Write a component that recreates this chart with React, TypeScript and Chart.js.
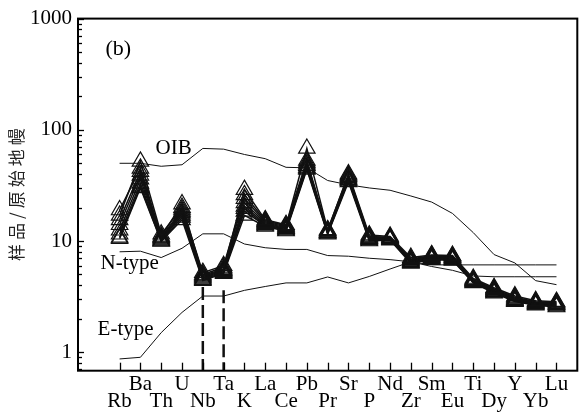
import React, { useEffect, useRef } from 'react';
import { Chart, registerables } from 'chart.js';

Chart.register(...registerables);

// Categories (primitive-mantle normalised trace elements)
const elements = ['Rb', 'Ba', 'Th', 'U', 'Nb', 'Ta', 'K', 'La', 'Ce', 'Pb', 'Pr', 'Sr', 'P', 'Nd', 'Zr', 'Sm', 'Eu', 'Ti', 'Dy', 'Y', 'Yb', 'Lu'];
const yTickValues = [1, 10, 100, 1000];
const yMin = 0.682;
const yMax = 1000;
const yTitle = '样品/原始地幔';

// Sample series (one value per element)
const sampleA = [19, 45, 11, 21.5, 4.9, 5.6, 29, 15.5, 14, 53, 12.4, 40, 11.3, 11, 7.1, 7.5, 7.4, 4.6, 3.8, 3.2, 2.9, 2.85];
const sampleB = [17, 52, 11.5, 20, 5.2, 6.0, 26, 15.2, 13.7, 68, 12.6, 39, 11, 10.8, 6.9, 7.4, 7.3, 4.5, 3.72, 3.12, 2.85, 2.8];
const sampleC = [15.5, 42, 10.8, 19.2, 5.0, 5.8, 24, 14.9, 13.4, 51, 12.2, 38, 10.8, 10.7, 6.8, 7.3, 7.2, 4.45, 3.66, 3.06, 2.81, 2.76];
const sampleD = [14, 39, 10.6, 18.5, 4.8, 5.5, 22, 14.6, 13.1, 49, 12, 37, 10.6, 10.6, 6.7, 7.2, 7.1, 4.4, 3.6, 3.0, 2.78, 2.72];
const sampleE = [12.5, 36, 10.4, 17.8, 4.7, 5.4, 20.5, 14.3, 12.9, 47.5, 11.9, 36, 10.5, 10.5, 6.6, 7.1, 7.0, 4.35, 3.55, 2.95, 2.75, 2.68];
const sampleF = [11.5, 33, 10.2, 17, 4.6, 5.3, 19.5, 14, 12.7, 46, 11.8, 35.5, 10.3, 10.4, 6.5, 7.0, 6.9, 4.3, 3.5, 2.91, 2.72, 2.65];
const sampleG = [10.8, 31, 10, 16.3, 4.5, 5.2, 18.5, 13.8, 12.5, 45, 11.7, 35, 10.2, 10.3, 6.4, 6.9, 6.8, 4.25, 3.45, 2.88, 2.69, 2.6];
const sampleH = [10.5, 30, 9.9, 15.5, 4.4, 5.1, 17, 13.5, 12.3, 44, 11.5, 34, 10.0, 10.2, 6.3, 6.8, 6.7, 4.2, 3.4, 2.85, 2.65, 2.55];

// Reference curves
const oib = [50, 50, 47, 48.5, 68, 67, 60, 55, 46, 45.5, 35, 32, 30, 28.6, 25.4, 22.4, 17.7, 11.9, 7.55, 6.35, 4.4, 4.05];
const nType = [8.0, 8.1, 7.1, 8.6, 11.6, 11.6, 9.4, 8.7, 8.4, 8.4, 7.4, 7.3, 7.0, 6.8, 6.5, 5.9, 5.45, 4.85, 4.77, 4.77, 4.77, 4.77];
const eType = [0.87, 0.9, 1.5, 2.28, 3.2, 3.2, 3.6, 3.9, 4.2, 4.2, 4.75, 4.2, 4.8, 5.6, 6.5, 6.1, 6.1, 6.1, 6.1, 6.1, 6.1, 6.1];

// Dashed markers under Nb and Ta
const dashElements = ['Nb', 'Ta'];
const dashTops = [3.85, 3.6];

const samples = [sampleA, sampleB, sampleC, sampleD, sampleE, sampleF, sampleG, sampleH];

const toXY = (arr: number[]) => arr.map((v, i) => ({ x: i, y: v }));

const decorPlugin = {
  id: 'decor',
  afterDraw(chart: any) {
    const { ctx, chartArea: a, scales } = chart;
    const xs = scales.x;
    const ys = scales.y;
    ctx.save();
    ctx.strokeStyle = '#000';
    ctx.lineWidth = 1.3;
    for (let e = -1; e <= 3; e++) {
      for (let m = 1; m <= 9; m++) {
        const v = m * Math.pow(10, e);
        if (v < yMin || v > yMax) continue;
        const py = Math.round(ys.getPixelForValue(v)) + 0.5;
        const len = m === 1 ? 6 : 4;
        ctx.beginPath();
        ctx.moveTo(a.left, py);
        ctx.lineTo(a.left + len, py);
        ctx.stroke();
      }
    }
    elements.forEach((_, i) => {
      const px = Math.round(xs.getPixelForValue(i)) + 0.5;
      ctx.beginPath();
      ctx.moveTo(px, a.bottom);
      ctx.lineTo(px, a.bottom - 8);
      ctx.stroke();
    });
    ctx.lineWidth = 2;
    ctx.strokeRect(a.left, a.top, a.right - a.left, a.bottom - a.top);

    const notes = [
      { text: '(b)', x: -0.68, y: 474, size: 22 },
      { text: 'OIB', x: 1.73, y: 60, size: 21 },
      { text: 'N-type', x: -0.92, y: 5.58, size: 21 },
      { text: 'E-type', x: -1.06, y: 1.42, size: 21 },
    ];
    ctx.fillStyle = '#000';
    ctx.textAlign = 'left';
    ctx.textBaseline = 'alphabetic';
    for (const n of notes) {
      ctx.font = `${n.size}px "Liberation Serif"`;
      ctx.fillText(n.text, xs.getPixelForValue(n.x), ys.getPixelForValue(n.y));
    }

    ctx.translate(17, (a.top + a.bottom) / 2);
    ctx.rotate(-Math.PI / 2);
    ctx.font = '17px "Noto Sans CJK SC"';
    ctx.textAlign = 'center';
    ctx.textBaseline = 'middle';
    ctx.fillStyle = '#222';
    (ctx as any).letterSpacing = '4px';
    ctx.fillText(yTitle, 2, 0);
    ctx.restore();
  },
};

export default function App() {
  const ref = useRef<HTMLCanvasElement | null>(null);

  useEffect(() => {
    document.body.style.margin = '0';
    const canvas = ref.current;
    if (!canvas) return;

    const refLine = (data: number[]) => ({
      data: toXY(data),
      borderColor: '#111',
      borderWidth: 1,
      pointRadius: 0,
      tension: 0,
      fill: false,
    });

    const datasets: any[] = [refLine(oib), refLine(nType), refLine(eType)];

    dashElements.forEach((el, k) => {
      const i = elements.indexOf(el);
      datasets.push({
        data: [
          { x: i, y: dashTops[k] },
          { x: i, y: yMin },
        ],
        borderColor: '#111',
        borderWidth: 2.5,
        borderDash: [13, 5],
        pointRadius: 0,
        fill: false,
      });
    });

    samples.forEach((s) => {
      datasets.push({
        data: toXY(s),
        borderColor: '#111',
        borderWidth: 1.5,
        pointStyle: 'triangle',
        pointRadius: 9.5,
        pointBorderWidth: 1.2,
        pointBorderColor: '#111',
        pointBackgroundColor: 'rgba(0,0,0,0)',
        tension: 0,
        fill: false,
      });
    });

    const chart = new Chart(canvas, {
      type: 'line',
      data: { datasets },
      plugins: [decorPlugin],
      options: {
        animation: false,
        responsive: false,
        devicePixelRatio: 1,
        layout: { padding: { top: 14, right: 1.5, left: 0, bottom: 0 } },
        plugins: {
          legend: { display: false },
          tooltip: { enabled: false },
        },
        scales: {
          x: {
            type: 'linear',
            min: -2,
            max: 22,
            grid: { display: false, drawTicks: false },
            border: { display: false },
            afterFit: (s: any) => {
              s.height = 41.3;
            },
            afterBuildTicks: (s: any) => {
              s.ticks = elements.map((_, i) => ({ value: i }));
            },
            ticks: {
              autoSkip: false,
              maxRotation: 0,
              minRotation: 0,
              padding: 5.5,
              color: '#000',
              font: { family: 'Liberation Serif', size: 21, lineHeight: 0.79 },
              callback: (v: any) => {
                const i = Math.round(Number(v));
                const name = elements[i];
                if (name === undefined) return '';
                return i % 2 === 1 ? [name, ''] : ['', name];
              },
            },
          },
          y: {
            type: 'logarithmic',
            min: yMin,
            max: yMax,
            grid: { display: false, drawTicks: false },
            border: { display: false },
            afterFit: (s: any) => {
              s.width = 78;
            },
            afterBuildTicks: (s: any) => {
              s.ticks = yTickValues.map((v) => ({ value: v }));
            },
            ticks: {
              padding: 6,
              color: '#000',
              font: { family: 'Liberation Serif', size: 21 },
              callback: (v: any) => String(v),
            },
          },
        },
      },
    });

    return () => chart.destroy();
  }, []);

  return <canvas ref={ref} width={588} height={412} style={{ display: 'block', width: 588, height: 412 }} />;
}
